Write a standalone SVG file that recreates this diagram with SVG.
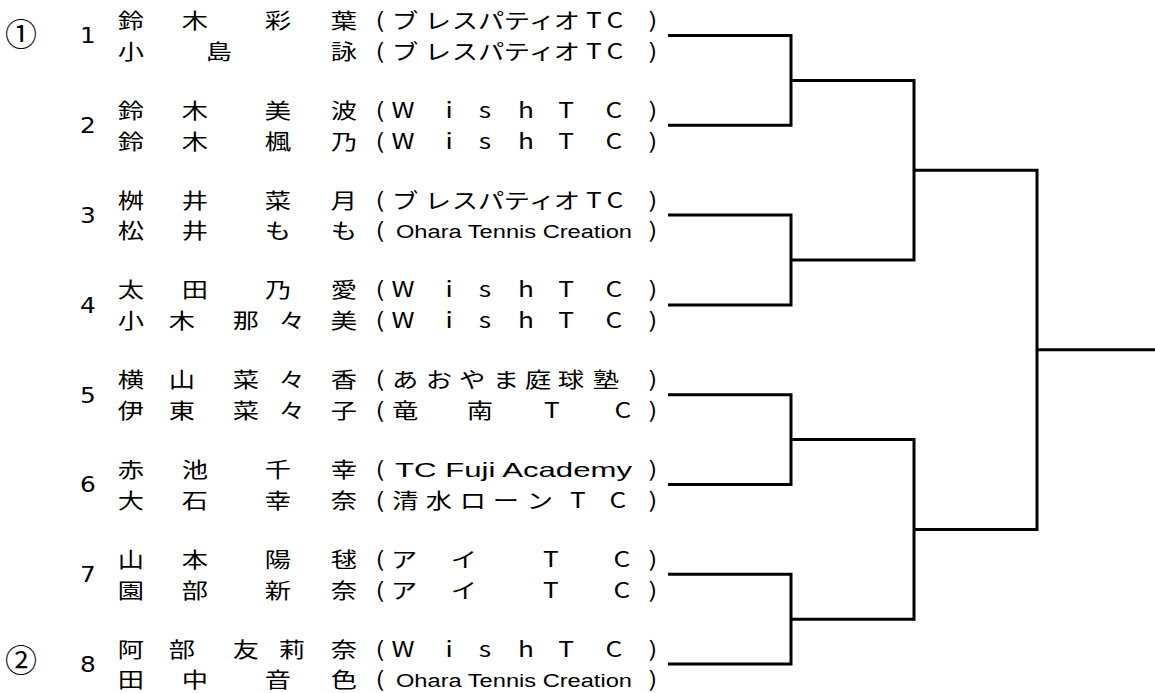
<svg xmlns="http://www.w3.org/2000/svg" width="1155" height="693" viewBox="0 0 1155 693">
<style>
.j{font-family:"Noto Sans CJK JP","Noto Sans CJK SC",sans-serif;font-size:21px;fill:#000;text-anchor:middle}
.l{font-family:"Liberation Sans",Arial,sans-serif;fill:#000}
.n{font-family:"Liberation Sans Narrow","DejaVu Sans Condensed","Liberation Sans",sans-serif;font-size:22px;fill:#000;text-anchor:middle}
.c{font-family:"Noto Sans CJK JP",sans-serif;font-size:32px;fill:#000;text-anchor:middle}
.br{fill:none;stroke:#000;stroke-width:3}
</style>
<rect width="1155" height="693" fill="#fff"/>
<g id="bracket">
<path class="br" d="M668,35.5H791V125.3H668"/>
<path class="br" d="M668,215.1H791V304.9H668"/>
<path class="br" d="M668,394.7H791V484.5H668"/>
<path class="br" d="M668,574.3H791V664.1H668"/>
<path class="br" d="M791,80.4H914V260H791"/>
<path class="br" d="M791,439.6H914V619.2H791"/>
<path class="br" d="M914,170.2H1037V529.4H914"/>
<path class="br" d="M1037,349.8H1155"/>
</g>
<g id="seed1"><text class="c" x="21" y="46">①</text></g>
<g id="seed2"><text class="c" x="21" y="672">②</text></g>
<g transform="scale(1.25,1)">
<g id="entry1">
<text class="n" x="70.4" y="43.5">1</text>
<text class="j" x="104.8 156 222.4 275.2" y="28">鈴木彩葉</text>
<text class="j" x="304 324 350.4 372 392.8 413.6 433.6 453.6 475.2 492 522.4" y="28">(ブレスパティオTC)</text>
<text class="j" x="104.8 175.2 275.2" y="58.8">小島詠</text>
<text class="j" x="304 324 350.4 372 392.8 413.6 433.6 453.6 475.2 492 522.4" y="58.8">(ブレスパティオTC)</text>
</g>
<g id="entry2">
<text class="n" x="70.4" y="133.3">2</text>
<text class="j" x="104.8 156 222.4 275.2" y="117.8">鈴木美波</text>
<text class="j" x="304 322.4 359.2 388 420.8 452.8 491.2 522.4" y="117.8">(WishTC)</text>
<text class="j" x="104.8 156 222.4 275.2" y="148.6">鈴木楓乃</text>
<text class="j" x="304 322.4 359.2 388 420.8 452.8 491.2 522.4" y="148.6">(WishTC)</text>
</g>
<g id="entry3">
<text class="n" x="70.4" y="223.1">3</text>
<text class="j" x="104.8 156 222.4 275.2" y="207.6">桝井菜月</text>
<text class="j" x="304 324 350.4 372 392.8 413.6 433.6 453.6 475.2 492 522.4" y="207.6">(ブレスパティオTC)</text>
<text class="j" x="104.8 156 222.4 275.2" y="238.4">松井もも</text>
<text class="j" x="304" y="238.4">(</text>
<text class="l" x="316.8" y="238.4" font-size="18" textLength="188.8" lengthAdjust="spacingAndGlyphs">Ohara Tennis Creation</text>
<text class="j" x="522.4" y="238.4">)</text>
</g>
<g id="entry4">
<text class="n" x="70.4" y="312.9">4</text>
<text class="j" x="104.8 156 222.4 275.2" y="297.4">太田乃愛</text>
<text class="j" x="304 322.4 359.2 388 420.8 452.8 491.2 522.4" y="297.4">(WishTC)</text>
<text class="j" x="104.8 145.6 196.8 233.6 275.2" y="328.2">小木那々美</text>
<text class="j" x="304 322.4 359.2 388 420.8 452.8 491.2 522.4" y="328.2">(WishTC)</text>
</g>
<g id="entry5">
<text class="n" x="70.4" y="402.7">5</text>
<text class="j" x="104.8 145.6 196.8 233.6 275.2" y="387.2">横山菜々香</text>
<text class="j" x="304 324 351.2 377.6 404.8 430.4 456.8 484.8 522.4" y="387.2">(あおやま庭球塾)</text>
<text class="j" x="104.8 145.6 196.8 233.6 275.2" y="418">伊東菜々子</text>
<text class="j" x="304 324 384 441.6 498.4 522.4" y="418">(竜南TC)</text>
</g>
<g id="entry6">
<text class="n" x="70.4" y="492.5">6</text>
<text class="j" x="104.8 156 222.4 275.2" y="477">赤池千幸</text>
<text class="j" x="304" y="477">(</text>
<text class="l" x="316" y="477" font-size="21" textLength="189.6" lengthAdjust="spacingAndGlyphs">TC Fuji Academy</text>
<text class="j" x="522.4" y="477">)</text>
<text class="j" x="104.8 156 222.4 275.2" y="507.8">大石幸奈</text>
<text class="j" x="304 324 351.2 378.4 404.8 432 462.4 494.4 522.4" y="507.8">(清水ローンTC)</text>
</g>
<g id="entry7">
<text class="n" x="70.4" y="582.3">7</text>
<text class="j" x="104.8 156 222.4 275.2" y="566.8">山本陽毬</text>
<text class="j" x="304 323.2 371.2 440.8 497.6 522.4" y="566.8">(アイTC)</text>
<text class="j" x="104.8 156 222.4 275.2" y="597.6">園部新奈</text>
<text class="j" x="304 323.2 371.2 440.8 497.6 522.4" y="597.6">(アイTC)</text>
</g>
<g id="entry8">
<text class="n" x="70.4" y="672.1">8</text>
<text class="j" x="104.8 145.6 196.8 233.6 275.2" y="656.6">阿部友莉奈</text>
<text class="j" x="304 322.4 359.2 388 420.8 452.8 491.2 522.4" y="656.6">(WishTC)</text>
<text class="j" x="104.8 156 222.4 275.2" y="687.4">田中音色</text>
<text class="j" x="304" y="687.4">(</text>
<text class="l" x="316.8" y="687.4" font-size="18" textLength="188.8" lengthAdjust="spacingAndGlyphs">Ohara Tennis Creation</text>
<text class="j" x="522.4" y="687.4">)</text>
</g>
</g>
</svg>
